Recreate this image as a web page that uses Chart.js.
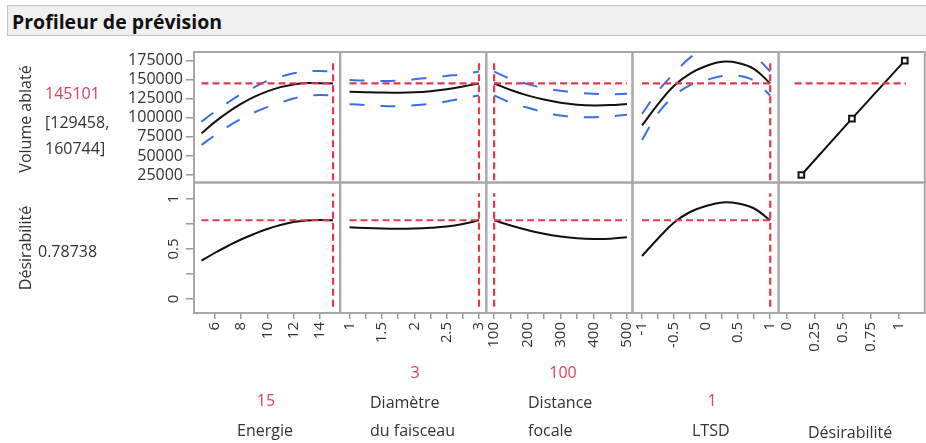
<!DOCTYPE html>
<html lang="fr">
<head>
<meta charset="utf-8">
<title>Profileur de prévision</title>
<script src="https://cdn.jsdelivr.net/npm/chart.js@4.4.0/dist/chart.umd.min.js"></script>
<style>
  html, body { margin: 0; padding: 0; background: #fff; overflow: hidden; }
  body { width: 926px; height: 443px; position: relative; font-family: "Open Sans", sans-serif; color: #333; }
  #titre { position: absolute; left: 7px; top: 5px; width: 940px; height: 31px; box-sizing: border-box;
           background: #f0f0f0; border: 1px solid #c4c4c4; border-right: none;
           font-weight: bold; font-size: 19.5px; line-height: 31px; padding-left: 4px; color: #111; }
  canvas { position: absolute; left: 0; top: 0; }
  .lbl { position: absolute; font-size: 16px; line-height: 20px; white-space: nowrap; transform: translateY(-50%); }
  .ctr { transform: translate(-50%, -50%); }
  .rot { transform: translate(-50%, -50%) rotate(-90deg); }
  .rouge { color: #e0405a; }
</style>
</head>
<body>
<div id="titre">Profileur de prévision</div>
<canvas id="profil" width="945" height="443"></canvas>

<div class="lbl rot" style="left:25px; top:119px;">Volume ablaté</div>
<div class="lbl rouge" style="left:45px; top:93px;">145101</div>
<div class="lbl" style="left:45px; top:122px;">[129458,</div>
<div class="lbl" style="left:45px; top:148px;">160744]</div>
<div class="lbl rot" style="left:25px; top:248px;">Désirabilité</div>
<div class="lbl" style="left:38px; top:251px;">0.78738</div>

<div class="lbl ctr rouge" style="left:266px; top:400px;">15</div>
<div class="lbl" style="left:237px; top:430px;">Energie</div>
<div class="lbl ctr rouge" style="left:415px; top:372px;">3</div>
<div class="lbl" style="left:370px; top:402px;">Diamètre</div>
<div class="lbl" style="left:370px; top:430px;">du faisceau</div>
<div class="lbl ctr rouge" style="left:563px; top:372px;">100</div>
<div class="lbl" style="left:528px; top:402px;">Distance</div>
<div class="lbl" style="left:528px; top:430px;">focale</div>
<div class="lbl ctr rouge" style="left:712px; top:400px;">1</div>
<div class="lbl" style="left:692px; top:430px;">LTSD</div>
<div class="lbl" style="left:808px; top:432px;">Désirabilité</div>

<script>
// Valeurs courantes et prévision
const valEnergie = 15;
const valDiametre = 3;
const valDistance = 100;
const valLtsd = 1;
const predVolume = 145101;
const predDes = 0.78738;

// Energie
const energie = [5, 6, 7, 8, 9, 10, 11, 12, 13, 14, 15];
const volEnergie = [79700, 94400, 107200, 118200, 127400, 134800, 140300, 143900, 145600, 145500, 145101];
const volEnergieHaut = [95000, 108000, 120000, 131000, 140000, 148500, 154000, 158500, 161000, 161500, 160744];
const volEnergieBas = [64400, 77000, 88500, 98500, 107000, 114000, 120000, 125500, 129000, 130000, 129458];
const desEnergie = [0.383, 0.46, 0.53, 0.595, 0.65, 0.70, 0.74, 0.77, 0.785, 0.79, 0.787];

// Diamètre du faisceau
const diametre = [1, 1.25, 1.5, 1.75, 2, 2.25, 2.5, 2.75, 3];
const volDiametre = [134300, 133600, 133100, 133000, 133500, 135000, 137500, 141000, 145101];
const volDiametreHaut = [149500, 148800, 148400, 148800, 150500, 152800, 155000, 157200, 160744];
const volDiametreBas = [118000, 116800, 115500, 115300, 116500, 118500, 121500, 125500, 129458];
const desDiametre = [0.717, 0.71, 0.705, 0.703, 0.705, 0.712, 0.725, 0.75, 0.787];

// Distance focale
const distance = [100, 150, 200, 250, 300, 350, 400, 450, 500];
const volDistance = [145101, 136500, 129500, 124000, 119800, 117300, 116300, 116700, 118300];
const volDistanceHaut = [160744, 151000, 144500, 139000, 135500, 133000, 131500, 131000, 131500];
const volDistanceBas = [129458, 120000, 113500, 107500, 103000, 101000, 100800, 102000, 104000];
const desDistance = [0.787, 0.735, 0.69, 0.652, 0.625, 0.607, 0.60, 0.603, 0.617];

// LTSD
const ltsd = [-1, -0.75, -0.5, -0.25, 0, 0.25, 0.5, 0.75, 1];
const volLtsd = [90000, 118000, 142000, 158000, 168000, 173500, 172000, 164000, 145101];
const volLtsdHaut = [105000, 135000, 158500, 179000, 193000, 198000, 195000, 182000, 160744];
const volLtsdBas = [71000, 106000, 128500, 143000, 149500, 155000, 155300, 148500, 129458];
const desLtsd = [0.43, 0.605, 0.765, 0.87, 0.93, 0.965, 0.955, 0.905, 0.787];

// Fonction de désirabilité
const desX = [0.13, 0.58, 1.05];
const desVolume = [25000, 99000, 175000];
const desLigneX = [0.07, 1.06];

// étendue des lignes rouges verticales
const volLigne = [18000, 174500];
const desLigne = [-0.077, 1.057];

// graduations
const volTicks = [25000, 50000, 75000, 100000, 125000, 150000, 175000];
const desYTicks = [0, 0.25, 0.5, 0.75, 1];
const desYLabels = [0, 0.5, 1];
const energieTicks = [6, 8, 10, 12, 14];
const diametreTicks = [1, 1.25, 1.5, 1.75, 2, 2.25, 2.5, 2.75, 3];
const diametreLabels = [1, 1.5, 2, 2.5, 3];
const distanceTicks = [100, 150, 200, 250, 300, 350, 400, 450, 500];
const distanceLabels = [100, 200, 300, 400, 500];
const ltsdTicks = [-1, -0.75, -0.5, -0.25, 0, 0.25, 0.5, 0.75, 1];
const ltsdLabels = [-1, -0.5, 0, 0.5, 1];
const desXTicks = [0, 0.25, 0.5, 0.75, 1];

Chart.defaults.font.family = "'Open Sans', sans-serif";
Chart.defaults.color = "#333";

const ROUGE = "rgb(228, 56, 80)";
const BLEU = "rgb(58, 110, 228)";
const NOIR = "#111";

const zip = (xs, ys) => xs.map((x, i) => ({ x: x, y: ys[i] }));

function ligneRouge(xId, yId, pts) {
  return { data: pts, xAxisID: xId, yAxisID: yId, borderColor: ROUGE, borderWidth: 2.2,
           borderDash: [7, 4], pointRadius: 0, tension: 0 };
}
function bande(xId, xs, ys) {
  return { data: zip(xs, ys), xAxisID: xId, yAxisID: "yV", borderColor: BLEU, borderWidth: 2,
           borderDash: [15, 16], pointRadius: 0, tension: 0.4 };
}
function courbe(xId, yId, xs, ys) {
  return { data: zip(xs, ys), xAxisID: xId, yAxisID: yId, borderColor: NOIR, borderWidth: 2,
           pointRadius: 0, tension: 0.4 };
}

const colonnes = [
  { axe: "xE", x: energie, vol: volEnergie, haut: volEnergieHaut, bas: volEnergieBas, des: desEnergie, val: valEnergie },
  { axe: "xD", x: diametre, vol: volDiametre, haut: volDiametreHaut, bas: volDiametreBas, des: desDiametre, val: valDiametre },
  { axe: "xF", x: distance, vol: volDistance, haut: volDistanceHaut, bas: volDistanceBas, des: desDistance, val: valDistance },
  { axe: "xL", x: ltsd, vol: volLtsd, haut: volLtsdHaut, bas: volLtsdBas, des: desLtsd, val: valLtsd },
];

const datasets = [];
colonnes.forEach((c) => {
  const x0 = c.x[0];
  const x1 = c.x[c.x.length - 1];
  datasets.push(ligneRouge(c.axe, "yV", [{ x: x0, y: predVolume }, { x: x1, y: predVolume }]));
  datasets.push(ligneRouge(c.axe, "yV", [{ x: c.val, y: volLigne[0] }, { x: c.val, y: volLigne[1] }]));
  datasets.push(ligneRouge(c.axe, "yD", [{ x: x0, y: predDes }, { x: x1, y: predDes }]));
  datasets.push(ligneRouge(c.axe, "yD", [{ x: c.val, y: desLigne[0] }, { x: c.val, y: desLigne[1] }]));
  datasets.push(bande(c.axe, c.x, c.haut));
  datasets.push(bande(c.axe, c.x, c.bas));
  datasets.push(courbe(c.axe, "yV", c.x, c.vol));
  datasets.push(courbe(c.axe, "yD", c.x, c.des));
});
datasets.push(ligneRouge("xDes", "yV", [{ x: desLigneX[0], y: predVolume }, { x: desLigneX[1], y: predVolume }]));
datasets.push({
  data: zip(desX, desVolume), xAxisID: "xDes", yAxisID: "yV", borderColor: NOIR, borderWidth: 2,
  tension: 0, pointStyle: "rect", pointRadius: 4, pointBorderWidth: 2,
  pointBackgroundColor: "#fff", pointBorderColor: NOIR,
});

const police = { size: 15 };

function axeX(min, max, ticks, labels) {
  return {
    type: "linear", position: "bottom", stack: "colonnes", stackWeight: 1,
    min: min, max: max,
    afterBuildTicks: (s) => { s.ticks = ticks.map((v) => ({ value: v })); },
    afterFit: (s) => { s.height = 50; },
    ticks: {
      autoSkip: false, minRotation: 90, maxRotation: 90, padding: 3, font: police, color: "#333",
      callback: (v) => (labels.includes(v) ? String(v) : ""),
    },
    grid: { drawOnChartArea: false, drawTicks: true, tickLength: 6, color: "#9a9a9a", lineWidth: 1.5 },
    border: { display: false },
  };
}

// cadres gris des panneaux
const cadres = {
  id: "cadres",
  beforeDatasetsDraw(chart) {
    const ctx = chart.ctx;
    ctx.save();
    ctx.strokeStyle = "#a8a8a8";
    ctx.lineWidth = 2;
    ["xE", "xD", "xF", "xL", "xDes"].forEach((xi) => {
      ["yV", "yD"].forEach((yi) => {
        const xs = chart.scales[xi];
        const ys = chart.scales[yi];
        ctx.strokeRect(xs.left, ys.top, xs.width, ys.height);
      });
    });
    ctx.restore();
  },
};

// chaque courbe reste dans son panneau
const decoupe = {
  id: "decoupe",
  beforeDatasetDraw(chart, args) {
    const xs = chart.scales[args.meta.xAxisID];
    const ys = chart.scales[args.meta.yAxisID];
    chart.ctx.save();
    chart.ctx.beginPath();
    chart.ctx.rect(xs.left, ys.top, xs.width, ys.height);
    chart.ctx.clip();
  },
  afterDatasetDraw(chart) {
    chart.ctx.restore();
  },
};

new Chart(document.getElementById("profil"), {
  type: "line",
  data: { datasets: datasets },
  options: {
    responsive: false,
    animation: false,
    layout: { padding: { left: 114, top: 52, right: 10, bottom: 80 } },
    plugins: { legend: { display: false }, tooltip: { enabled: false } },
    scales: {
      yD: {
        type: "linear", position: "left", stack: "lignes", stackWeight: 1,
        min: -0.14, max: 1.165,
        afterBuildTicks: (s) => { s.ticks = desYTicks.map((v) => ({ value: v })); },
        afterFit: (s) => { s.width = 80; },
        ticks: {
          autoSkip: false, minRotation: 90, maxRotation: 90, crossAlign: "center", padding: 2, font: police, color: "#333",
          callback: (v) => (desYLabels.includes(v) ? String(v) : ""),
        },
        grid: { drawOnChartArea: false, drawTicks: true, tickLength: 8, color: "#9a9a9a", lineWidth: 1.5 },
        border: { display: false },
      },
      yV: {
        type: "linear", position: "left", stack: "lignes", stackWeight: 1,
        min: 15160, max: 186400,
        afterBuildTicks: (s) => { s.ticks = volTicks.map((v) => ({ value: v })); },
        afterFit: (s) => { s.width = 80; },
        ticks: { autoSkip: false, padding: 3, font: { size: 16 }, color: "#333", callback: (v) => String(v) },
        grid: { drawOnChartArea: false, drawTicks: true, tickLength: 8, color: "#9a9a9a", lineWidth: 1.5 },
        border: { display: false },
      },
      xE: axeX(4.43, 15.54, energieTicks, energieTicks),
      xD: axeX(0.855, 3.113, diametreTicks, diametreLabels),
      xF: axeX(76.5, 516.6, distanceTicks, distanceLabels),
      xL: axeX(-1.149, 1.131, ltsdTicks, ltsdLabels),
      xDes: axeX(-0.072, 1.228, desXTicks, desXTicks),
    },
  },
  plugins: [cadres, decoupe],
});
</script>
</body>
</html>
